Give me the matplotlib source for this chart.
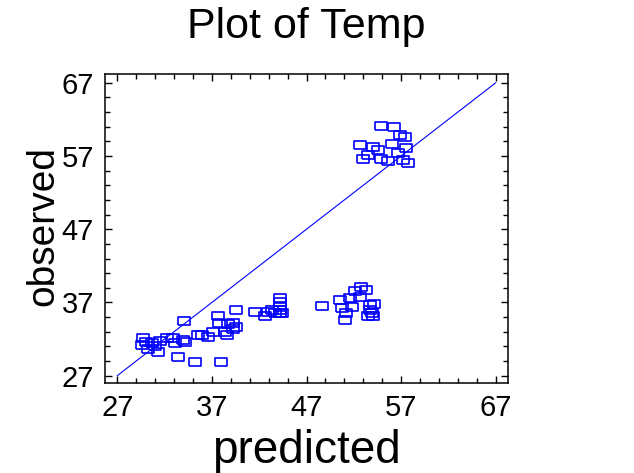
import matplotlib
matplotlib.use('Agg')
import matplotlib.pyplot as plt
from matplotlib import rcParams
from matplotlib.ticker import MultipleLocator

rcParams['font.family'] = ['Liberation Sans', 'DejaVu Sans']

# 数据: predicted (x) / observed (y)
predicted = [
    29.7, 29.6, 30.0, 30.2, 30.7, 31.0, 31.3, 31.5, 32.3, 32.9,
    33.1, 33.9, 34.1, 33.4, 34.2, 35.2, 35.5, 36.0, 36.6, 37.1,
    37.6, 38.0, 37.8, 38.4, 38.6, 38.7, 39.2, 39.2, 39.6, 39.6,
    41.6, 42.6, 42.9, 43.3, 43.7, 44.2, 44.2, 44.2, 44.2, 44.2,
    44.4, 48.6,
    50.5, 50.7, 51.2, 51.1, 51.6, 52.1, 52.8, 53.3, 52.7, 51.8,
    53.7, 54.1, 53.7, 53.9, 53.5, 54.0,
    54.9, 56.3, 56.9, 57.4, 52.7, 54.0, 54.6, 56.0, 57.5, 56.7,
    53.5, 53.0, 54.9, 55.6, 57.2, 57.7,
]
observed = [
    32.2, 31.2, 31.6, 30.7, 31.5, 31.1, 30.3, 31.8, 32.2, 32.2,
    31.5, 31.9, 34.5, 29.5, 31.6, 28.9, 32.6, 32.6, 32.3, 33.0,
    35.2, 28.9, 34.2, 33.0, 32.6, 34.0, 34.2, 33.4, 33.7, 35.9,
    35.7, 35.2, 35.7, 36.0, 35.6, 37.6, 37.0, 36.4, 35.9, 35.5,
    35.6, 36.5,
    37.4, 36.3, 35.6, 34.6, 37.6, 38.6, 39.1, 38.7, 37.8, 36.4,
    36.7, 36.8, 36.0, 35.5, 35.2, 35.2,
    61.1, 61.0, 59.9, 59.6, 58.5, 58.2, 57.8, 58.7, 58.1, 57.4,
    57.2, 56.6, 56.6, 56.3, 56.5, 56.1,
]
ticks = [27, 37, 47, 57, 67]
line_x = [27, 67]
line_y = [27, 67]

# 样式
blue = '#0000FF'
rect_marker = [(-1, -0.72), (1, -0.72), (1, 0.72), (-1, 0.72), (-1, -0.72)]

fig = plt.figure(figsize=(6.34, 4.73), dpi=100)
ax = fig.add_axes([0.1656, 0.1903, 0.6357, 0.6533])

ax.plot(line_x, line_y, color=blue, linewidth=0.8)
ax.plot(predicted, observed, linestyle='none', marker=rect_marker, markersize=8.5,
        markerfacecolor='none', markeredgecolor=blue, markeredgewidth=1.2)

ax.set_xlim(25.7, 68.3)
ax.set_ylim(26.0, 68.2)
ax.set_xticks(ticks)
ax.set_yticks(ticks)
ax.xaxis.set_minor_locator(MultipleLocator(2, offset=1))
ax.yaxis.set_minor_locator(MultipleLocator(2, offset=1))
ax.tick_params(which='both', direction='in', top=True, right=True, width=1.0)
ax.tick_params(which='major', length=5, labelsize=21, pad=8)
ax.tick_params(which='minor', length=3.5)
for s in ax.spines.values():
    s.set_linewidth(1.1)

# 标题和轴标签
fig.text(306 / 634, 1 - 38 / 473, 'Plot of Temp', fontsize=31,
         ha='center', va='baseline')
fig.text(306 / 634, 1 - 463 / 473, 'predicted', fontsize=33,
         ha='center', va='baseline')
fig.text(53 / 634, 1 - 226 / 473, 'observed', fontsize=28, rotation=90,
         rotation_mode='anchor', ha='center', va='baseline')

plt.savefig('out.png', dpi=100)
